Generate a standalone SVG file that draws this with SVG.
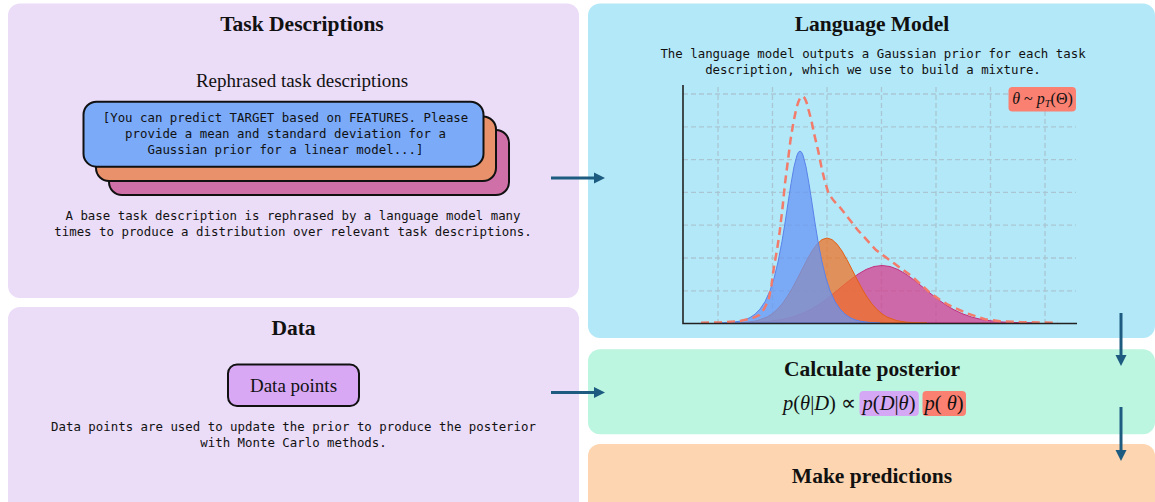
<svg xmlns="http://www.w3.org/2000/svg" width="1155" height="502" viewBox="0 0 1155 502">
<style>
.title{font-family:"Liberation Serif","Times New Roman",serif;font-weight:bold;font-size:21.5px;fill:#111;text-anchor:middle}
.serif{font-family:"Liberation Serif","Times New Roman",serif;font-size:19px;fill:#111;text-anchor:middle}
.mono{font-family:"DejaVu Sans Mono","Liberation Mono",monospace;font-size:12.4px;fill:#111;text-anchor:middle}
.math{font-family:"Liberation Serif","Times New Roman",serif;font-size:20.5px;fill:#111}
.label{font-family:"Liberation Serif","Times New Roman",serif;font-size:16px;fill:#111;text-anchor:middle}
.grid{stroke:#a9c6d2;stroke-width:1.3;stroke-dasharray:5 3;fill:none}
.card{stroke:#111;stroke-width:2}
.conn{stroke:#1d5c80;stroke-width:3;fill:none}
</style>
<defs>
<marker id="ah" markerUnits="userSpaceOnUse" markerWidth="12" markerHeight="12" viewBox="0 0 12 12" refX="1" refY="6" orient="auto">
<path d="M0,0.5 L11,6 L0,11.5 Z" fill="#1d5c80"/>
</marker>
</defs>

<g id="task-descriptions">
<rect x="8" y="3.5" width="571" height="294.5" rx="12" fill="#ebdcf8"/>
<text class="title" x="302" y="30.7">Task Descriptions</text>
<text class="serif" x="302" y="87">Rephrased task descriptions</text>
<rect class="card" x="109" y="130" width="400" height="65" rx="13" fill="#d070a8"/>
<rect class="card" x="96" y="116.5" width="400" height="64.5" rx="13" fill="#e8916a"/>
<rect class="card" x="83.5" y="101.7" width="400" height="65" rx="13" fill="#7aaaf8"/>
<text class="mono" x="285.5" y="122">[You can predict TARGET based on FEATURES. Please</text>
<text class="mono" x="285.5" y="138">provide a mean and standard deviation for a</text>
<text class="mono" x="285.5" y="154">Gaussian prior for a linear model...]</text>
<text class="mono" x="293" y="220">A base task description is rephrased by a language model many</text>
<text class="mono" x="293" y="236">times to produce a distribution over relevant task descriptions.</text>
</g>

<g id="data">
<rect x="8" y="307" width="571" height="210" rx="12" fill="#ebdcf8"/>
<text class="title" x="293.5" y="335">Data</text>
<rect class="card" x="228" y="364.5" width="131" height="41.5" rx="9" fill="#d8a8f5"/>
<text class="serif" x="293.5" y="391.5">Data points</text>
<text class="mono" x="293.5" y="431">Data points are used to update the prior to produce the posterior</text>
<text class="mono" x="293.5" y="447">with Monte Carlo methods.</text>
</g>

<g id="language-model">
<rect x="588" y="3.5" width="567" height="334.5" rx="12" fill="#b3e8f8"/>
<text class="title" x="872" y="30.7">Language Model</text>
<text class="mono" x="873" y="58.3">The language model outputs a Gaussian prior for each task</text>
<text class="mono" x="873" y="74.3">description, which we use to build a mixture.</text>
<g id="chart">
<path class="grid" d="M718,87V323 M772.5,87V323 M827,87V323 M881.5,87V323 M936,87V323 M990.5,87V323 M1045,87V323"/>
<path class="grid" d="M683,94H1076 M683,126.8H1076 M683,159.6H1076 M683,192.4H1076 M683,225.2H1076 M683,258H1076 M683,290.8H1076"/>
<path d="M732,323 L732,322.9 L752,322.5 L767,321.65 L782,319.6 L792,317.2 L802,313.6 L810,309.8 L818,305 L826,299.4 L834,293.1 L842,286.5 L850,280 L858,274.2 L866,269.5 L874,266.5 L882,265.5 L890,266.5 L898,269.5 L906,274.2 L914,280 L922,286.5 L930,293.1 L938,299.4 L946,305 L954,309.8 L962,313.6 L972,317.2 L982,319.6 L997,321.65 L1012,322.5 L1032,322.9 L1032,323 Z" fill="#d63f8e" fill-opacity="0.75" stroke="#c2307f" stroke-width="1"/>
<path d="M727,323 L737,322.8 L747,322.25 L757,320.7 L767,317.1 L772,313.9 L777,309.6 L782,304 L787,297 L792,288.7 L797,279.3 L802,269.5 L807,259.8 L812,251 L817,244.1 L822,239.6 L827,238 L832,239.6 L837,244.1 L842,251 L847,259.8 L852,269.5 L857,279.3 L862,288.7 L867,297 L872,304 L877,309.6 L882,313.9 L887,317.1 L897,320.7 L907,322.25 L917,322.8 L927,323 Z" fill="#ef7326" fill-opacity="0.75" stroke="#e2601a" stroke-width="1"/>
<path d="M720,323 L730,322.5 L740,321.2 L745,319.8 L750,317.6 L755,314.2 L760,309.1 L765,301.7 L770,290.7 L774,278.3 L778,262 L782,241.3 L785,223 L788,203.1 L791,183.7 L794,166.8 L797,155.2 Q800,147 803,155.2 L806,166.8 L809,183.7 L812,203.1 L815,223 L818,241.3 L822,262 L826,278.3 L830,290.7 L835,301.7 L840,309.1 L845,314.2 L850,317.6 L855,319.8 L860,321.2 L870,322.5 L880,323 Z" fill="#6795f4" fill-opacity="0.75" stroke="#5a82ea" stroke-width="1"/>
<path d="M701,322.7 L720,322.5 L740,321 L752,318.3 L759.5,315 L764,309 L768.6,300 L771.5,285 L774,266.7 L777,250 L779.5,233.3 L782.5,208 L785,183.3 L788,160 L790.5,140 L793.5,122 L796,110 Q802.5,83 808.6,110 L811.5,121 L814,133.3 L818,150 L821.4,166.7 L824.5,180 L828,191.7 Q832,200 839.5,206.7 L857.7,230 L876,250 L894,263.3 L912.3,276.7 L921,284.5 L930.5,293.3 L939.5,299.5 L948.6,305 L966.8,313.3 L985,319.3 L1000,321.2 L1021,322.2 L1058,322.7" fill="none" stroke="#f27b6b" stroke-width="2.5" stroke-dasharray="8 5"/>
<path d="M683,85V323.5H1077" fill="none" stroke="#222" stroke-width="1.6"/>
<rect x="1008.5" y="87" width="67.5" height="24.5" rx="4" fill="#fa8072"/>
<text class="label" x="1042.5" y="104"><tspan font-style="italic">θ</tspan> ~ <tspan font-style="italic">p</tspan><tspan style="font-style:italic;font-size:10.5px" dy="3">T</tspan><tspan dy="-3">(Θ)</tspan></text>
</g>
</g>

<g id="calculate-posterior">
<rect x="588" y="349.3" width="567" height="85" rx="12" fill="#bcf5e0"/>
<text class="title" x="872" y="376">Calculate posterior</text>
<text class="math" x="856" y="410" text-anchor="end"><tspan font-style="italic">p</tspan>(<tspan font-style="italic">θ</tspan>|<tspan font-style="italic">D</tspan>) ∝</text>
<rect x="859.5" y="391" width="59.3" height="25" rx="4" fill="#d5a8f5"/>
<text class="math" x="889" y="410" text-anchor="middle"><tspan font-style="italic">p</tspan>(<tspan font-style="italic">D</tspan>|<tspan font-style="italic">θ</tspan>)</text>
<rect x="922.5" y="391" width="43.5" height="25" rx="4" fill="#fa8072"/>
<text class="math" x="944" y="410" text-anchor="middle"><tspan font-style="italic">p</tspan>( <tspan font-style="italic">θ</tspan>)</text>
</g>

<g id="make-predictions">
<rect x="588" y="444" width="567" height="70" rx="12" fill="#fdd5b0"/>
<text class="title" x="872" y="483">Make predictions</text>
</g>

<g id="connectors">
<line class="conn" x1="551" y1="178" x2="595" y2="178" marker-end="url(#ah)"/>
<line class="conn" x1="551" y1="392.5" x2="595" y2="392.5" marker-end="url(#ah)"/>
<line class="conn" x1="1121" y1="313" x2="1121" y2="356" marker-end="url(#ah)"/>
<line class="conn" x1="1121" y1="407" x2="1121" y2="451" marker-end="url(#ah)"/>
</g>
</svg>
